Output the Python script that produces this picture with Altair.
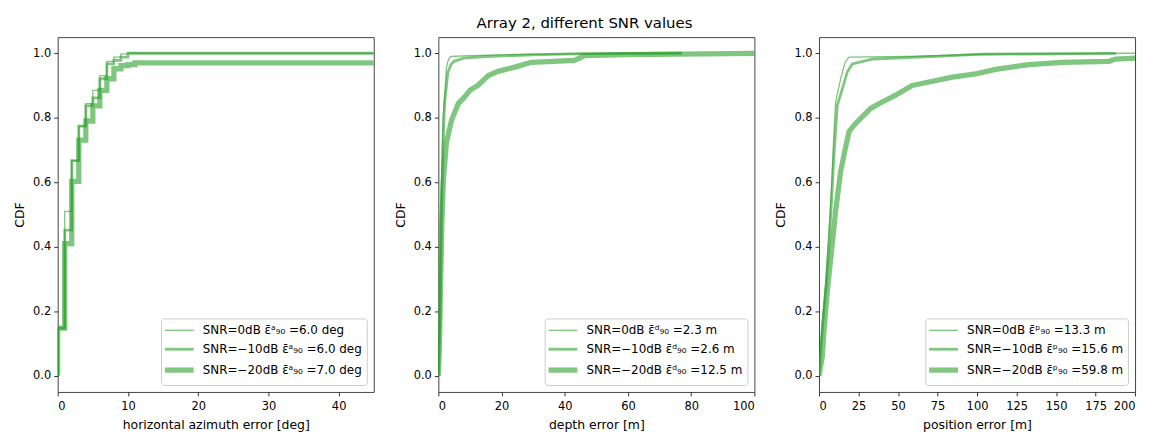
import altair as alt
import pandas as pd

GREEN = "#2ca02c"
FONT = "DejaVu Sans"

# ---- panel 1: horizontal azimuth error (step CDF) ----
az_labels = ["SNR=0dB ε̄ᵃ₉₀ =6.0 deg", "SNR=−10dB ε̄ᵃ₉₀ =6.0 deg", "SNR=−20dB ε̄ᵃ₉₀ =7.0 deg"]
az_x_0 = [0, 0, 1, 2, 3, 4, 5, 6, 7, 8, 9, 10, 45]
az_y_0 = [0, 0.148, 0.51, 0.667, 0.774, 0.844, 0.885, 0.931, 0.975, 0.988, 0.998, 1.0, 1.0]
az_x_1 = [0, 0, 1, 2, 3, 4, 5, 6, 7, 8, 9, 10, 45]
az_y_1 = [0, 0.148, 0.452, 0.667, 0.774, 0.837, 0.862, 0.921, 0.967, 0.978, 0.988, 1.0, 1.0]
az_x_2 = [0, 0, 1, 2, 3, 4, 5, 6, 7, 8, 9, 10, 11, 45]
az_y_2 = [0, 0.148, 0.41, 0.603, 0.731, 0.79, 0.837, 0.885, 0.921, 0.952, 0.962, 0.965, 0.970, 0.970]

# ---- panel 2: depth error ----
d_labels = ["SNR=0dB ε̄ᵈ₉₀ =2.3 m", "SNR=−10dB ε̄ᵈ₉₀ =2.6 m", "SNR=−20dB ε̄ᵈ₉₀ =12.5 m"]
d_x_0 = [0, 0.5, 1.0, 1.5, 2.0, 2.5, 3.0, 3.8, 10, 30, 50, 77]
d_y_0 = [0, 0.2, 0.6, 0.8, 0.86, 0.95, 0.975, 0.99, 0.993, 0.997, 0.999, 1.0]
d_x_1 = [0, 0.5, 1.0, 1.5, 2.0, 2.6, 3.0, 4.0, 5.0, 8.0, 15, 30, 45, 77]
d_y_1 = [0, 0.15, 0.5, 0.72, 0.85, 0.9, 0.94, 0.965, 0.975, 0.985, 0.99, 0.995, 0.999, 1.0]
d_x_2 = [0, 0.3, 0.7, 1.1, 1.6, 2.6, 4.2, 6.3, 7.9, 10.0, 12.5, 15.8, 18.9, 24.2, 29.4, 43.1, 46.3, 60, 100]
d_y_2 = [0, 0.08, 0.28, 0.47, 0.61, 0.726, 0.793, 0.844, 0.86, 0.885, 0.90, 0.931, 0.944, 0.957, 0.972, 0.978, 0.993, 0.996, 1.0]

# ---- panel 3: position error ----
p_labels = ["SNR=0dB ε̄ᵖ₉₀ =13.3 m", "SNR=−10dB ε̄ᵖ₉₀ =15.6 m", "SNR=−20dB ε̄ᵖ₉₀ =59.8 m"]
p_x_0 = [0, 2.1, 4.2, 6.3, 8.0, 8.9, 10.5, 13.7, 16.5, 19, 57, 103, 200]
p_y_0 = [0, 0.162, 0.285, 0.439, 0.593, 0.695, 0.849, 0.921, 0.972, 0.988, 0.99, 0.997, 1.0]
p_x_1 = [0, 2.3, 4.5, 6.6, 8.4, 9.4, 11.6, 14.8, 17.9, 21.1, 33.7, 78, 103, 188]
p_y_1 = [0, 0.16, 0.28, 0.43, 0.58, 0.68, 0.839, 0.89, 0.942, 0.967, 0.982, 0.991, 0.997, 1.0]
p_x_2 = [0, 2.1, 3.2, 5.3, 8.4, 10.5, 13.7, 16.9, 19, 22.2, 25.3, 32.7, 40, 48.5, 59, 69.6, 84.4,
         99.2, 111.8, 132.9, 154, 183.5, 187.8, 200]
p_y_2 = [0, 0.06, 0.142, 0.265, 0.408, 0.51, 0.634, 0.71, 0.757, 0.777, 0.793, 0.829, 0.849, 0.87,
         0.9, 0.911, 0.926, 0.936, 0.95, 0.965, 0.972, 0.975, 0.982, 0.985]

y_ticks = [0.0, 0.2, 0.4, 0.6, 0.8, 1.0]
line_widths = [1.3, 2.8, 5.3]


def make_df(labels, xs, ys):
    rows = []
    for lab, xv, yv in zip(labels, xs, ys):
        for i, (a, b) in enumerate(zip(xv, yv)):
            rows.append({"x": a, "y": b, "label": lab, "idx": i})
    return pd.DataFrame(rows)


def panel(df, labels, xdom, xticks, xtitle, interp):
    return (
        alt.Chart(df)
        .mark_line(color=GREEN, opacity=0.6, clip=True, interpolate=interp)
        .encode(
            x=alt.X("x:Q", scale=alt.Scale(domain=xdom, nice=False, zero=False),
                    axis=alt.Axis(values=xticks, format="d", title=xtitle,
                                  labelPadding=5, titlePadding=6)),
            y=alt.Y("y:Q", scale=alt.Scale(domain=[-0.05, 1.05], nice=False, zero=False),
                    axis=alt.Axis(values=y_ticks, format=".1f", title="CDF",
                                  labelPadding=3, titlePadding=6)),
            strokeWidth=alt.StrokeWidth(
                "label:N",
                scale=alt.Scale(type="ordinal", domain=labels, range=line_widths),
                legend=alt.Legend(
                    title=None, orient="bottom-right", offset=7,
                    symbolType="M-1.4,0H2.6", symbolSize=210,
                    symbolStrokeColor=GREEN, symbolOpacity=0.6,
                    labelFont=FONT, labelFontSize=12, labelColor="#000",
                    labelLimit=400, labelOffset=18,
                    fillColor="white", strokeColor="#cccccc", cornerRadius=3,
                    padding=4, rowPadding=4,
                ),
            ),
            order="idx:Q",
        )
        .properties(width=318, height=357)
    )


df1 = make_df(az_labels, [az_x_0, az_x_1, az_x_2], [az_y_0, az_y_1, az_y_2])
df2 = make_df(d_labels, [d_x_0, d_x_1, d_x_2], [d_y_0, d_y_1, d_y_2])
df3 = make_df(p_labels, [p_x_0, p_x_1, p_x_2], [p_y_0, p_y_1, p_y_2])

c1 = panel(df1, az_labels, [0, 45], [0, 10, 20, 30, 40], "horizontal azimuth error [deg]", "step-after")
c2 = panel(df2, d_labels, [0, 100], [0, 20, 40, 60, 80, 100], "depth error [m]", "linear")
c3 = panel(df3, p_labels, [0, 200], [0, 25, 50, 75, 100, 125, 150, 175, 200], "position error [m]", "linear")

chart = (
    alt.hconcat(c1, c2, c3, spacing=19)
    .resolve_scale(strokeWidth="independent")
    .properties(
        title=alt.Title("Array 2, different SNR values", font=FONT, fontSize=15,
                        fontWeight="normal", anchor="middle", offset=6, dx=10, color="#000"),
        padding={"left": 5, "top": 6, "right": 5, "bottom": 2},
    )
    .configure_view(stroke="#444", strokeWidth=1)
    .configure_axis(
        domain=False, grid=False, tickColor="#333", tickSize=4,
        labelFont=FONT, labelFontSize=11.5, labelColor="#000",
        titleFont=FONT, titleFontSize=12.5, titleFontWeight="normal", titleColor="#000",
    )
)

chart.save("out.html", embed_options={"renderer": "svg", "actions": False})
